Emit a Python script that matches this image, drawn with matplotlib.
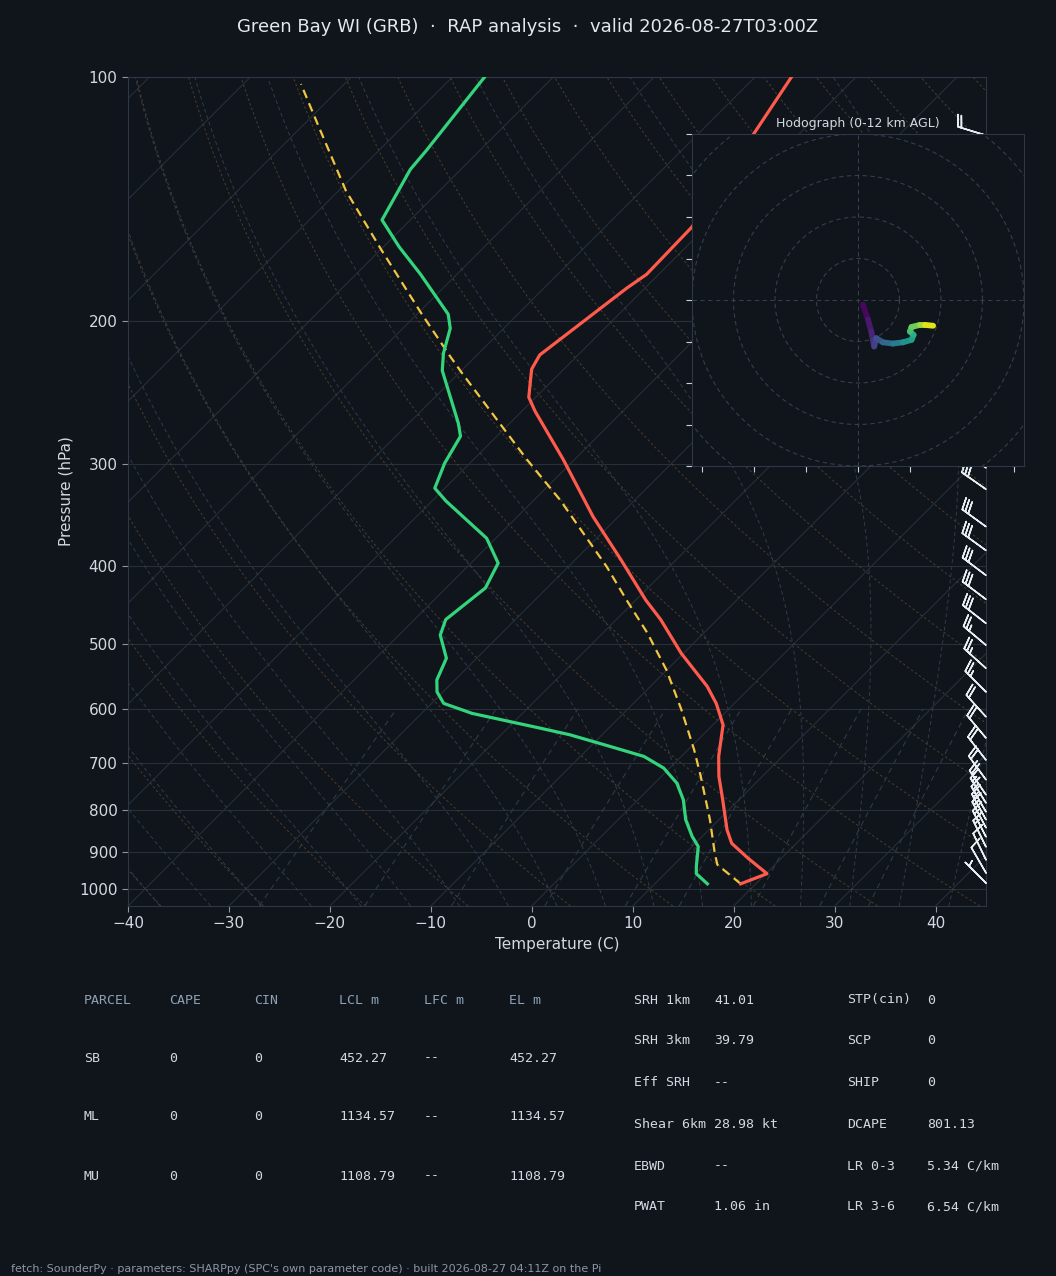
import numpy as np
import matplotlib
matplotlib.use("Agg")
import matplotlib.pyplot as plt
from matplotlib.transforms import Affine2D, blended_transform_factory
from matplotlib.collections import LineCollection
from matplotlib.ticker import FixedLocator, NullLocator, FixedFormatter

# ---------------- data ----------------
title = "Green Bay WI (GRB)  \u00b7  RAP analysis  \u00b7  valid 2026-08-27T03:00Z"

temp_p = [100, 153, 175, 182, 220, 229, 248, 258, 296, 348, 393, 441, 466, 513,
          563, 591, 628, 687, 727, 777, 846, 879, 917, 958, 986]
temp_c = [-56.4, -51.4, -51.2, -51.8, -53.8, -53.2, -50.7, -48.7, -41.1, -32.5,
          -25.5, -19.0, -15.6, -10.2, -4.4, -1.8, 1.0, 3.7, 5.7, 8.4, 11.8, 13.6,
          16.7, 20.1, 18.5]

dew_p = [100, 123, 130, 150, 162, 175, 196, 204, 219, 230, 267, 277, 299, 321,
         333, 370, 397, 426, 466, 487, 520, 553, 572, 591, 608, 634, 646, 668,
         687, 710, 741, 777, 822, 862, 887, 939, 958, 986]
dew_c = [-86.8, -85.3, -85.0, -82.8, -78.4, -73.6, -66.9, -65.3, -63.5, -61.9,
         -55.1, -53.6, -52.5, -51.0, -48.6, -40.9, -37.3, -36.1, -36.9, -35.9,
         -33.0, -31.8, -30.6, -28.8, -25.0, -16.8, -13.2, -8.0, -3.7, -0.6, 2.2,
         4.5, 6.7, 9.0, 10.6, 12.4, 13.1, 15.2]

parcel_p = [986, 934, 904, 822, 727, 674, 602, 538, 484, 441, 401, 332, 296,
            232, 221, 195, 163, 138, 114, 102]
parcel_c = [18.5, 14.3, 12.9, 9.1, 3.9, 0.6, -4.6, -10.0, -15.6, -20.9, -26.2,
            -37.4, -44.7, -59.6, -62.5, -69.8, -80.0, -89.3, -98.8, -104.3]

barb_p = [118, 127, 136, 145, 156, 167, 178, 191, 204, 219, 234, 251, 268, 287,
          303, 322, 358, 383, 411, 440, 471, 501, 535, 572, 614, 652, 694, 734,
          766, 784, 804, 822, 841, 863, 888, 921, 956, 984]
barb_dir = [287, 287, 288, 290, 290, 292, 294, 295, 296, 298, 300, 302, 303, 304,
            305, 305, 306, 306, 307, 307, 308, 310, 312, 315, 318, 320, 322, 324,
            326, 328, 330, 331, 332, 333, 334, 334, 330, 315]
barb_spd = [20, 20, 20, 20, 20, 20, 25, 25, 25, 25, 30, 30, 30, 30,
            30, 30, 30, 30, 30, 30, 30, 25, 25, 25, 20, 20, 20, 20,
            20, 15, 15, 15, 15, 15, 15, 10, 10, 5]

hodo_u = [1.2, 2.4, 3.2, 3.6, 3.9, 4.4, 6.0, 8.4, 10.8, 12.9, 13.4, 12.5, 12.9,
          14.9, 16.1, 18.1]
hodo_v = [-1.1, -4.7, -7.6, -9.6, -11.2, -9.2, -10.2, -10.5, -10.2, -9.6, -8.4,
          -7.6, -6.5, -6.0, -6.0, -6.2]
hodo_z = [0.0, 0.5, 1.0, 1.5, 2.0, 2.5, 3.5, 4.5, 5.5, 6.5, 7.2, 8.0, 8.8, 9.8,
          10.8, 12.0]

press_ticks = [100, 200, 300, 400, 500, 600, 700, 800, 900, 1000]
temp_ticks = [-40, -30, -20, -10, 0, 10, 20, 30, 40]

parcel_cols = ["PARCEL", "CAPE", "CIN", "LCL m", "LFC m", "EL m"]
parcel_rows = [["SB", "0", "0", "452.27", "--", "452.27"],
               ["ML", "0", "0", "1134.57", "--", "1134.57"],
               ["MU", "0", "0", "1108.79", "--", "1108.79"]]
param_left = [("SRH 1km", "41.01"), ("SRH 3km", "39.79"), ("Eff SRH", "--"),
              ("Shear 6km", "28.98 kt"), ("EBWD", "--"), ("PWAT", "1.06 in")]
param_right = [("STP(cin)", "0"), ("SCP", "0"), ("SHIP", "0"),
               ("DCAPE", "801.13"), ("LR 0-3", "5.34 C/km"), ("LR 3-6", "6.54 C/km")]
footer = ("fetch: SounderPy \u00b7 parameters: SHARPpy (SPC's own parameter code) "
          "\u00b7 built 2026-08-27 04:11Z on the Pi")

# ---------------- style ----------------
BG = "#10141b"
GRID = "#262f3a"
SPINE = "#2e3845"
TXT = "#d3d9e0"
W, H = 1056, 1276

fig = plt.figure(figsize=(W / 100, H / 100), dpi=100)
fig.patch.set_facecolor(BG)

axl, axb, axw, axh = 128, 906, 858, 829
ax = fig.add_axes([axl / W, 1 - axb / H, axw / W, axh / H])
ax.set_facecolor(BG)
ax.set_yscale("log")
ax.set_xlim(-40, 45)
ax.set_ylim(1050, 100)
ax.yaxis.set_major_locator(FixedLocator(press_ticks))
ax.yaxis.set_major_formatter(FixedFormatter([str(p) for p in press_ticks]))
ax.yaxis.set_minor_locator(NullLocator())
ax.set_xticks(temp_ticks)
for s in ax.spines.values():
    s.set_color(SPINE)
ax.tick_params(colors=TXT, labelsize=11, length=4, color="#8a96a3")
ax.set_xlabel("Temperature (C)", color=TXT, fontsize=11, labelpad=4)
ax.set_ylabel("Pressure (hPa)", color=TXT, fontsize=11, labelpad=4)
for p in press_ticks:
    ax.axhline(p, color=GRID, lw=0.8, zorder=1)

skew = ax.transScale + (ax.transLimits +
                        Affine2D().skew(np.arctan(axh / axw), 0) + ax.transAxes)

# isotherms
for t in range(-120, 50, 10):
    ax.plot([t, t], [1050, 100], color=GRID, lw=0.8, transform=skew, zorder=1)

pp = np.linspace(1050, 100, 120)
# dry adiabats
for t0 in range(-40, 210, 10):
    tt = (t0 + 273.15) * (pp / 1000.0) ** 0.2857 - 273.15
    ax.plot(tt, pp, color="#4b3e2d", lw=0.7, ls=(0, (2.5, 2.5)), transform=skew, zorder=1)


# moist adiabats
def _dtdp(p, T):
    es = 6.112 * np.exp(17.67 * (T - 273.15) / (T - 29.65))
    rs = 0.622 * es / (p - es)
    Rd, Cp, Lv = 287.04, 1005.7, 2.501e6
    return (Rd * T + Lv * rs) / (Cp + Lv * Lv * rs * 0.622 / (Rd * T * T)) / p


def _integrate(T, plist):
    out = [T]
    for i in range(len(plist) - 1):
        p, h = plist[i], plist[i + 1] - plist[i]
        k1 = _dtdp(p, T)
        k2 = _dtdp(p + h / 2, T + h * k1 / 2)
        k3 = _dtdp(p + h / 2, T + h * k2 / 2)
        k4 = _dtdp(p + h, T + h * k3)
        T = T + h / 6 * (k1 + 2 * k2 + 2 * k3 + k4)
        out.append(T)
    return np.array(out)


p_up = np.linspace(1000, 100, 181)
p_dn = np.linspace(1000, 1050, 11)
for t0 in range(-40, 50, 5):
    up = _integrate(t0 + 273.15, p_up)
    dn = _integrate(t0 + 273.15, p_dn)
    tt = np.concatenate([dn[::-1], up[1:]]) - 273.15
    pr = np.concatenate([p_dn[::-1], p_up[1:]])
    ax.plot(tt, pr, color="#2f3c4a", lw=0.7, ls=(0, (4, 3)), transform=skew, zorder=1)

# mixing ratio lines
pm = np.linspace(1050, 600, 30)
for w in [0.0004, 0.001, 0.002, 0.004, 0.007, 0.01, 0.016, 0.024, 0.032]:
    e = w * pm / (0.622 + w)
    le = np.log(e / 6.112)
    td = 243.5 * le / (17.67 - le)
    ax.plot(td, pm, color="#2a3c4a", lw=0.8, ls=(0, (5, 4)), transform=skew, zorder=1)

# profiles
ax.plot(parcel_c, parcel_p, color="#f2c640", lw=1.6, ls=(0, (4, 2.5)), transform=skew, zorder=4)
ax.plot(temp_c, temp_p, color="#ff5b4c", lw=2.3, transform=skew, zorder=5)
ax.plot(dew_c, dew_p, color="#33d47c", lw=2.3, transform=skew, zorder=5)

# wind barbs along right edge
d = np.deg2rad(barb_dir)
bu = -np.array(barb_spd) * np.sin(d)
bv = -np.array(barb_spd) * np.cos(d)
bt = blended_transform_factory(ax.transAxes, ax.transData)
ax.barbs(np.ones(len(barb_p)), barb_p, bu, bv, transform=bt, length=6.5,
         color="#e8edf2", linewidth=1.1, clip_on=False, zorder=6)

ax.set_xlim(-40, 45)
ax.set_ylim(1050, 100)

# hodograph inset
hx0, hy0, hs = 692, 134, 332
hax = fig.add_axes([hx0 / W, 1 - (hy0 + hs) / H, hs / W, hs / H])
hax.set_facecolor(BG)
hax.set_zorder(10)
hax.set_xlim(-40, 40)
hax.set_ylim(-40, 40)
for s in hax.spines.values():
    s.set_color(SPINE)
hax.set_xticks(np.arange(-37.5, 38, 12.5))
hax.set_yticks(np.arange(-40, 41, 10))
hax.tick_params(labelbottom=False, labelleft=False, color="#c9d1d9", length=4)
th = np.linspace(0, 2 * np.pi, 200)
for r in [10, 20, 30, 40, 50, 60]:
    hax.plot(r * np.cos(th), r * np.sin(th), color="#343f4c", lw=0.8, ls=(0, (4, 3)))
hax.axhline(0, color="#343f4c", lw=0.8, ls=(0, (4, 3)))
hax.axvline(0, color="#343f4c", lw=0.8, ls=(0, (4, 3)))
pts = np.column_stack([hodo_u, hodo_v])
segs = np.stack([pts[:-1], pts[1:]], axis=1)
zmid = (np.array(hodo_z[:-1]) + np.array(hodo_z[1:])) / 2
lc = LineCollection(segs, cmap="viridis", linewidths=4.2, capstyle="round")
lc.set_array(zmid)
lc.set_clim(0, 12)
hax.add_collection(lc)
hax.set_title("Hodograph (0-12 km AGL)", color=TXT, fontsize=9, pad=5)

# title
fig.text(0.5, 1 - 27 / H, title, color="#e3e8ee", fontsize=13, ha="center", va="center")

# parcel table
mono = "DejaVu Sans Mono"
col_x = [84, 169, 254, 339, 424, 509]
for cx, txt in zip(col_x, parcel_cols):
    fig.text(cx / W, 1 - 1000 / H, txt, family=mono, fontsize=9.5, color="#8fa1b5", va="center")
for ry, row in zip([1058, 1117, 1176], parcel_rows):
    for cx, txt in zip(col_x, row):
        fig.text(cx / W, 1 - ry / H, txt, family=mono, fontsize=9.5, color=TXT, va="center")

row_y = [1000, 1041, 1083, 1124, 1166, 1207]
for ry, (a, b), (c, dd) in zip(row_y, param_left, param_right):
    fig.text(634 / W, 1 - ry / H, a, family=mono, fontsize=9.5, color=TXT, va="center")
    fig.text(714 / W, 1 - ry / H, b, family=mono, fontsize=9.5, color=TXT, va="center")
    fig.text(847 / W, 1 - ry / H, c, family=mono, fontsize=9.5, color=TXT, va="center")
    fig.text(927 / W, 1 - ry / H, dd, family=mono, fontsize=9.5, color=TXT, va="center")

fig.text(11 / W, 1 - 1269 / H, footer, fontsize=8, color="#8b97a5", va="center")

fig.savefig("out.png", dpi=100, facecolor=BG)
